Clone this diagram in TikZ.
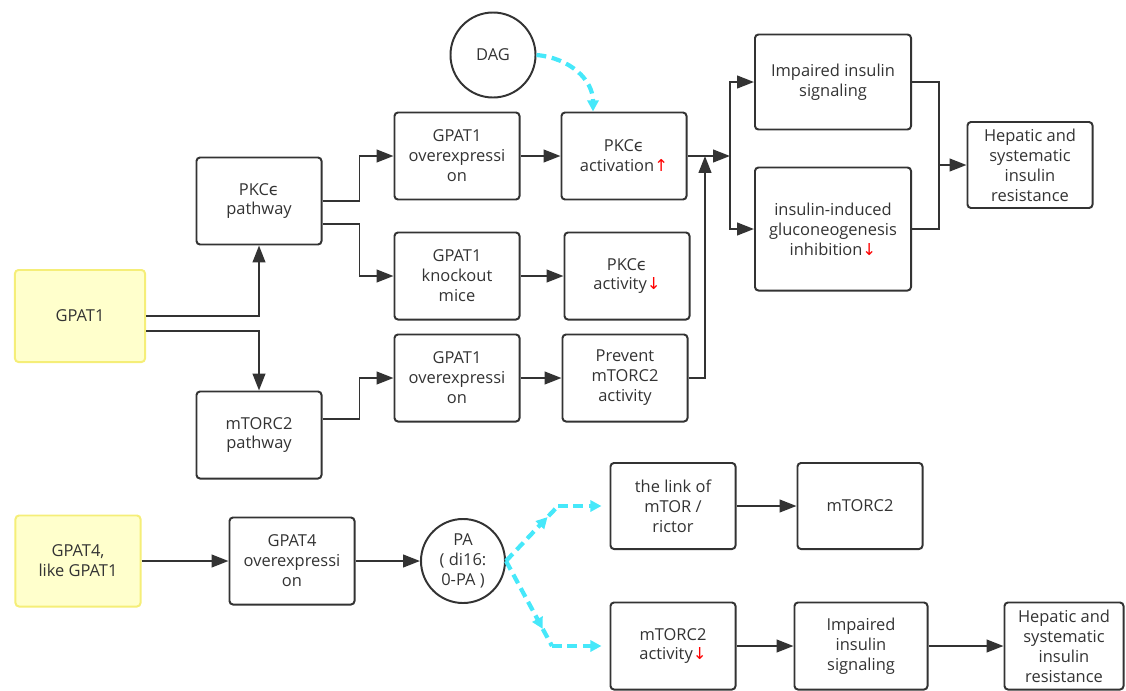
\documentclass[tikz,border=0pt]{standalone}
\usepackage{fontspec}
\setmainfont{Open Sans}
\newfontfamily\symfont{DejaVu Sans}
\usetikzlibrary{arrows.meta,calc,decorations.markings}
\definecolor{boxline}{RGB}{51,51,51}
\definecolor{yellowfill}{RGB}{255,255,204}
\definecolor{yellowline}{RGB}{245,238,120}
\definecolor{dashcyan}{RGB}{70,232,250}
\newcommand\epsl{{\symfont ϵ}}
\newcommand\redup{{\symfont\color{red}↑}}
\newcommand\reddown{{\symfont\color{red}↓}}

\begin{document}
\begin{tikzpicture}[x=0.025cm, y=-0.025cm,
    font=\fontsize{11.7}{14.2}\selectfont,
    box/.style={draw=boxline, line width=1.4pt, rounded corners=2.5pt, align=center,
        text=boxline, inner sep=2pt, minimum width=3.125cm, minimum height=2.175cm},
    yellowbox/.style={draw=yellowline, fill=yellowfill},
    circ/.style={circle, draw=boxline, line width=1.4pt, align=center, text=boxline, inner sep=1pt},
    line/.style={draw=boxline, line width=1.4pt},
    arr/.style={line, -{Triangle[length=12pt,width=9pt]}},
    cyandash/.style={draw=dashcyan, line width=3pt, dash pattern=on 7pt off 4pt},
    cyanarr/.style={cyandash, -{Triangle[length=8pt,width=8pt]}},
    midtip/.style={postaction={decorate, decoration={markings,
        mark=at position 0.8 with {\arrow[dashcyan]{Triangle[length=8pt,width=8pt]}}}}}]
    \useasboundingbox (0,0) rectangle (1126,691);

    % Nodes
    \node (gpat1) [box, yellowbox, minimum width=3.25cm, minimum height=2.3cm] at (80,316) {GPAT1};
    \node (pkcpath) [box] at (259,201) {PKC\epsl\\pathway};
    \node (mtorpath) [box] at (259,435) {mTORC2\\pathway};
    \node (over1) [box] at (457,156) {GPAT1\\overexpressi\\on};
    \node (ko) [box] at (457,276) {GPAT1\\knockout\\mice};
    \node (over2) [box] at (457,378) {GPAT1\\overexpressi\\on};
    \node (act) [box] at (624,156) {PKC\epsl\\activation\redup};
    \node (activ) [box] at (627,276) {PKC\epsl\\activity\reddown};
    \node (prevent) [box] at (625,378) {Prevent\\mTORC2\\activity};
    \node (dag) [circ, minimum size=2.125cm] at (493,55) {DAG};
    \node (impair) [box, minimum width=3.9cm, minimum height=2.375cm] at (833,82) {Impaired insulin\\signaling};
    \node (gluco) [box, minimum width=3.9cm, minimum height=3.075cm] at (833,229) {insulin-induced\\gluconeogenesis\\inhibition\reddown};
    \node (hep1) [box, minimum height=2.15cm] at (1030,165) {Hepatic and\\systematic\\insulin\\resistance};

    \node (gpat4) [box, yellowbox, minimum height=2.275cm] at (78,561) {GPAT4,\\like GPAT1};
    \node (over4) [box] at (292,561) {GPAT4\\overexpressi\\on};
    \node (pa) [circ, minimum size=2.1cm] at (463,561) {PA\\( di16:\\0-PA )};
    \node (link) [box, minimum height=2.15cm] at (673,506) {the link of\\mTOR /\\rictor};
    \node (mtorc2) [box, minimum height=2.15cm] at (860,506) {mTORC2};
    \node (mact) [box] at (673,646) {mTORC2\\activity\reddown};
    \node (impair2) [box, minimum width=3.325cm] at (861,646) {Impaired\\insulin\\signaling};
    \node (hep2) [box, minimum width=2.975cm] at (1064,646) {Hepatic and\\systematic\\insulin\\resistance};

    \coordinate (split) at (730,156);
    \coordinate (join) at (705,156);
    \coordinate (merge) at (939,165);
    \coordinate (bendup) at (558,506);
    \coordinate (benddown) at (552,646);

    % Edges
    \draw[arr] (gpat1.east) -| (pkcpath.south);
    \draw[arr] ($(gpat1.east)+(0,15)$) -| (mtorpath.north);
    \draw[arr] (pkcpath.east) -- ++(37,0) |- (over1.west);
    \draw[arr] ($(pkcpath.east)+(0,23)$) -- ++(37,0) |- (ko.west);
    \draw[arr] ($(mtorpath.east)+(0,-16)$) -- ++(37,0) |- (over2.west);
    \draw[arr] (over1) -- (act);
    \draw[arr] (ko) -- (activ);
    \draw[arr] (over2) -- (prevent);
    \draw[arr] (act.east) -- (split);
    \draw[arr] (prevent.east) -| (join);
    \draw[arr] (split) |- (impair.west);
    \draw[arr] (split) |- (gluco.west);
    \draw[line] (impair.east) -| (merge);
    \draw[line] (gluco.east) -| (merge);
    \draw[arr] (merge) -- (hep1.west);
    \draw[cyanarr] (dag.east) .. controls (570,58) and (593,80) .. ($(act.north)+(-31,0)$);

    \draw[arr] (gpat4) -- (over4);
    \draw[arr] (over4) -- (pa);
    \draw[cyandash, midtip] (pa.east) -- (bendup);
    \draw[cyanarr] (bendup) -- ($(link.west)+(-8,0)$);
    \draw[cyandash, midtip] (pa.east) -- (benddown);
    \draw[cyanarr] (benddown) -- ($(mact.west)+(-8,0)$);
    \draw[arr] (link) -- (mtorc2);
    \draw[arr] (mact) -- (impair2);
    \draw[arr] (impair2) -- (hep2);

\end{tikzpicture}
\end{document}
